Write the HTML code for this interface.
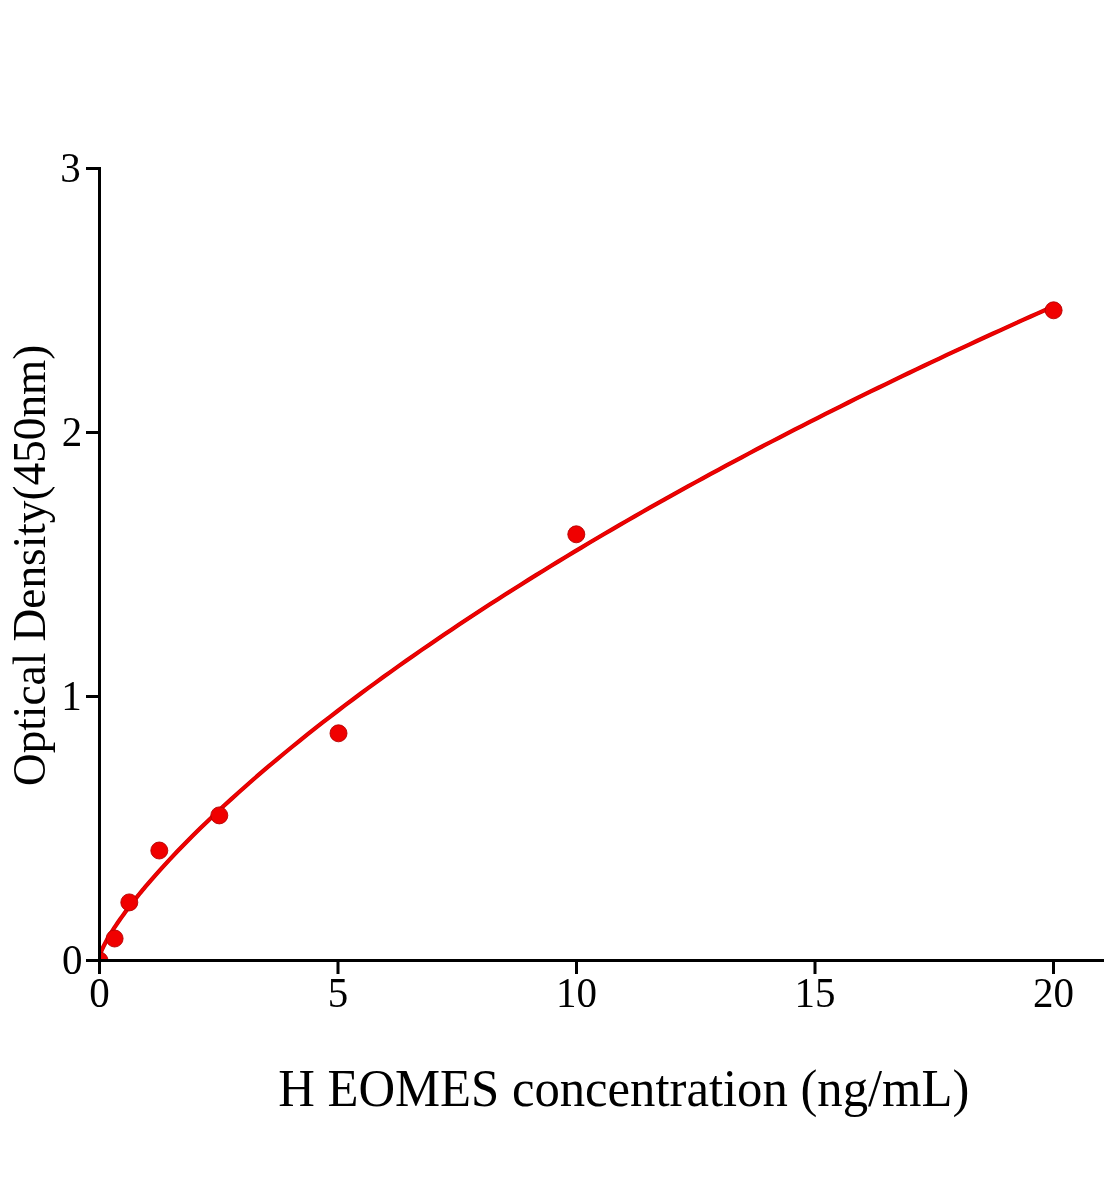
<!DOCTYPE html>
<html><head><meta charset="utf-8"><style>
html,body{margin:0;padding:0;background:#fff;}
svg{display:block;}
text{font-family:"Liberation Serif",serif;fill:#000;}
svg{will-change:transform;}
</style></head><body>
<svg width="1104" height="1200" viewBox="0 0 1104 1200">
<rect width="1104" height="1200" fill="#fff"/>
<defs><clipPath id="pa"><rect x="99.5" y="0" width="1004.5" height="960.5"/></clipPath></defs>
<g clip-path="url(#pa)">
<path d="M99.50,956.59 L99.98,954.70 L100.45,953.32 L100.93,952.08 L101.41,950.92 L101.89,949.82 L103.45,946.49 L105.01,943.43 L106.57,940.56 L108.14,937.82 L109.70,935.18 L111.26,932.62 L112.82,930.14 L114.39,927.72 L115.95,925.36 L117.51,923.04 L119.07,920.77 L120.64,918.54 L122.20,916.35 L123.76,914.19 L125.32,912.05 L126.89,909.95 L128.45,907.88 L130.01,905.83 L131.57,903.80 L133.14,901.80 L134.70,899.82 L136.26,897.85 L137.82,895.91 L139.39,893.98 L140.95,892.08 L142.51,890.19 L144.07,888.31 L145.64,886.45 L147.20,884.61 L154.82,875.82 L162.43,867.31 L170.05,859.05 L177.66,851.01 L185.28,843.17 L192.90,835.50 L200.51,828.00 L208.13,820.64 L215.74,813.41 L223.36,806.31 L230.98,799.33 L238.59,792.47 L246.21,785.70 L253.82,779.03 L261.44,772.46 L269.06,765.97 L276.67,759.57 L284.29,753.25 L291.90,747.00 L299.52,740.83 L307.14,734.72 L314.75,728.69 L322.37,722.72 L329.98,716.81 L337.60,710.97 L345.22,705.18 L352.83,699.45 L360.45,693.77 L368.06,688.15 L375.68,682.58 L383.29,677.06 L390.91,671.59 L398.53,666.16 L406.14,660.78 L413.76,655.45 L421.37,650.15 L428.99,644.91 L436.61,639.70 L444.22,634.53 L451.84,629.41 L459.45,624.32 L467.07,619.27 L474.69,614.26 L482.30,609.28 L489.92,604.34 L497.53,599.43 L505.15,594.56 L512.77,589.72 L520.38,584.92 L528.00,580.14 L535.61,575.40 L543.23,570.69 L550.85,566.01 L558.46,561.36 L566.08,556.73 L573.69,552.14 L581.31,547.58 L588.93,543.04 L596.54,538.53 L604.16,534.05 L611.77,529.59 L619.39,525.16 L627.01,520.76 L634.62,516.38 L642.24,512.03 L649.85,507.70 L657.47,503.39 L665.09,499.11 L672.70,494.85 L680.32,490.62 L687.93,486.41 L695.55,482.22 L703.17,478.05 L710.78,473.91 L718.40,469.78 L726.01,465.68 L733.63,461.60 L741.25,457.54 L748.86,453.50 L756.48,449.48 L764.09,445.48 L771.71,441.50 L779.33,437.54 L786.94,433.60 L794.56,429.68 L802.17,425.78 L809.79,421.90 L817.41,418.03 L825.02,414.18 L832.64,410.36 L840.25,406.54 L847.87,402.75 L855.48,398.97 L863.10,395.22 L870.72,391.47 L878.33,387.75 L885.95,384.04 L893.56,380.35 L901.18,376.67 L908.80,373.01 L916.41,369.37 L924.03,365.74 L931.64,362.13 L939.26,358.53 L946.88,354.95 L954.49,351.39 L962.11,347.84 L969.72,344.30 L977.34,340.78 L984.96,337.27 L992.57,333.78 L1000.19,330.30 L1007.80,326.84 L1015.42,323.39 L1023.04,319.95 L1030.65,316.53 L1038.27,313.12 L1045.88,309.73 L1053.50,306.35" fill="none" stroke="#cc0000" stroke-width="4.2" stroke-linejoin="round"/>
<path d="M99.50,956.59 L99.98,954.70 L100.45,953.32 L100.93,952.08 L101.41,950.92 L101.89,949.82 L103.45,946.49 L105.01,943.43 L106.57,940.56 L108.14,937.82 L109.70,935.18 L111.26,932.62 L112.82,930.14 L114.39,927.72 L115.95,925.36 L117.51,923.04 L119.07,920.77 L120.64,918.54 L122.20,916.35 L123.76,914.19 L125.32,912.05 L126.89,909.95 L128.45,907.88 L130.01,905.83 L131.57,903.80 L133.14,901.80 L134.70,899.82 L136.26,897.85 L137.82,895.91 L139.39,893.98 L140.95,892.08 L142.51,890.19 L144.07,888.31 L145.64,886.45 L147.20,884.61 L154.82,875.82 L162.43,867.31 L170.05,859.05 L177.66,851.01 L185.28,843.17 L192.90,835.50 L200.51,828.00 L208.13,820.64 L215.74,813.41 L223.36,806.31 L230.98,799.33 L238.59,792.47 L246.21,785.70 L253.82,779.03 L261.44,772.46 L269.06,765.97 L276.67,759.57 L284.29,753.25 L291.90,747.00 L299.52,740.83 L307.14,734.72 L314.75,728.69 L322.37,722.72 L329.98,716.81 L337.60,710.97 L345.22,705.18 L352.83,699.45 L360.45,693.77 L368.06,688.15 L375.68,682.58 L383.29,677.06 L390.91,671.59 L398.53,666.16 L406.14,660.78 L413.76,655.45 L421.37,650.15 L428.99,644.91 L436.61,639.70 L444.22,634.53 L451.84,629.41 L459.45,624.32 L467.07,619.27 L474.69,614.26 L482.30,609.28 L489.92,604.34 L497.53,599.43 L505.15,594.56 L512.77,589.72 L520.38,584.92 L528.00,580.14 L535.61,575.40 L543.23,570.69 L550.85,566.01 L558.46,561.36 L566.08,556.73 L573.69,552.14 L581.31,547.58 L588.93,543.04 L596.54,538.53 L604.16,534.05 L611.77,529.59 L619.39,525.16 L627.01,520.76 L634.62,516.38 L642.24,512.03 L649.85,507.70 L657.47,503.39 L665.09,499.11 L672.70,494.85 L680.32,490.62 L687.93,486.41 L695.55,482.22 L703.17,478.05 L710.78,473.91 L718.40,469.78 L726.01,465.68 L733.63,461.60 L741.25,457.54 L748.86,453.50 L756.48,449.48 L764.09,445.48 L771.71,441.50 L779.33,437.54 L786.94,433.60 L794.56,429.68 L802.17,425.78 L809.79,421.90 L817.41,418.03 L825.02,414.18 L832.64,410.36 L840.25,406.54 L847.87,402.75 L855.48,398.97 L863.10,395.22 L870.72,391.47 L878.33,387.75 L885.95,384.04 L893.56,380.35 L901.18,376.67 L908.80,373.01 L916.41,369.37 L924.03,365.74 L931.64,362.13 L939.26,358.53 L946.88,354.95 L954.49,351.39 L962.11,347.84 L969.72,344.30 L977.34,340.78 L984.96,337.27 L992.57,333.78 L1000.19,330.30 L1007.80,326.84 L1015.42,323.39 L1023.04,319.95 L1030.65,316.53 L1038.27,313.12 L1045.88,309.73 L1053.50,306.35" fill="none" stroke="#f00000" stroke-width="2.8" stroke-linejoin="round"/>
<g fill="#f00000" stroke="#b40000" stroke-width="0.9">
<circle cx="99.5" cy="960.5" r="8.5"/>
<circle cx="114.6" cy="938.5" r="8.5"/>
<circle cx="129.3" cy="902.4" r="8.5"/>
<circle cx="159.3" cy="850.5" r="8.5"/>
<circle cx="219.3" cy="815.4" r="8.5"/>
<circle cx="338.5" cy="733.3" r="8.5"/>
<circle cx="576.3" cy="534.3" r="8.5"/>
<circle cx="1053.6" cy="310.3" r="8.5"/>
</g>
</g>
<g stroke="#000" stroke-width="3" fill="none" stroke-linecap="butt">
<path d="M99.5,167V974"/>
<path d="M86,960.5H1104"/>
<path d="M86,168.5H99.5M86,432.5H99.5M86,696.5H99.5M86,960.5H99.5M99.5,960.5V974M338,960.5V974M576.5,960.5V974M815,960.5V974M1053.5,960.5V974"/>
</g>
<g font-size="41">
<text transform="translate(80.85,182.2) scale(1,1.05)" text-anchor="end">3</text>
<text transform="translate(82.30,446.2) scale(1,1.05)" text-anchor="end">2</text>
<text transform="translate(81.70,710.2) scale(1,1.05)" text-anchor="end">1</text>
<text transform="translate(82.45,974.2) scale(1,1.05)" text-anchor="end">0</text>
<text transform="translate(99.5,1007.4) scale(1,1.05)" text-anchor="middle">0</text>
<text transform="translate(338,1007.4) scale(1,1.05)" text-anchor="middle">5</text>
<text transform="translate(576.5,1007.4) scale(1,1.05)" text-anchor="middle">10</text>
<text transform="translate(815,1007.4) scale(1,1.05)" text-anchor="middle">15</text>
<text transform="translate(1053.5,1007.4) scale(1,1.05)" text-anchor="middle">20</text>
</g>
<text transform="translate(278.2,1106) scale(1,1.05)" font-size="50.7">H EOMES concentration (ng/mL)</text>
<text transform="translate(44.8,786.06) rotate(-90) scale(1,1.001)" font-size="45.3">Optical Density(450nm)</text>
</svg>
</body></html>
